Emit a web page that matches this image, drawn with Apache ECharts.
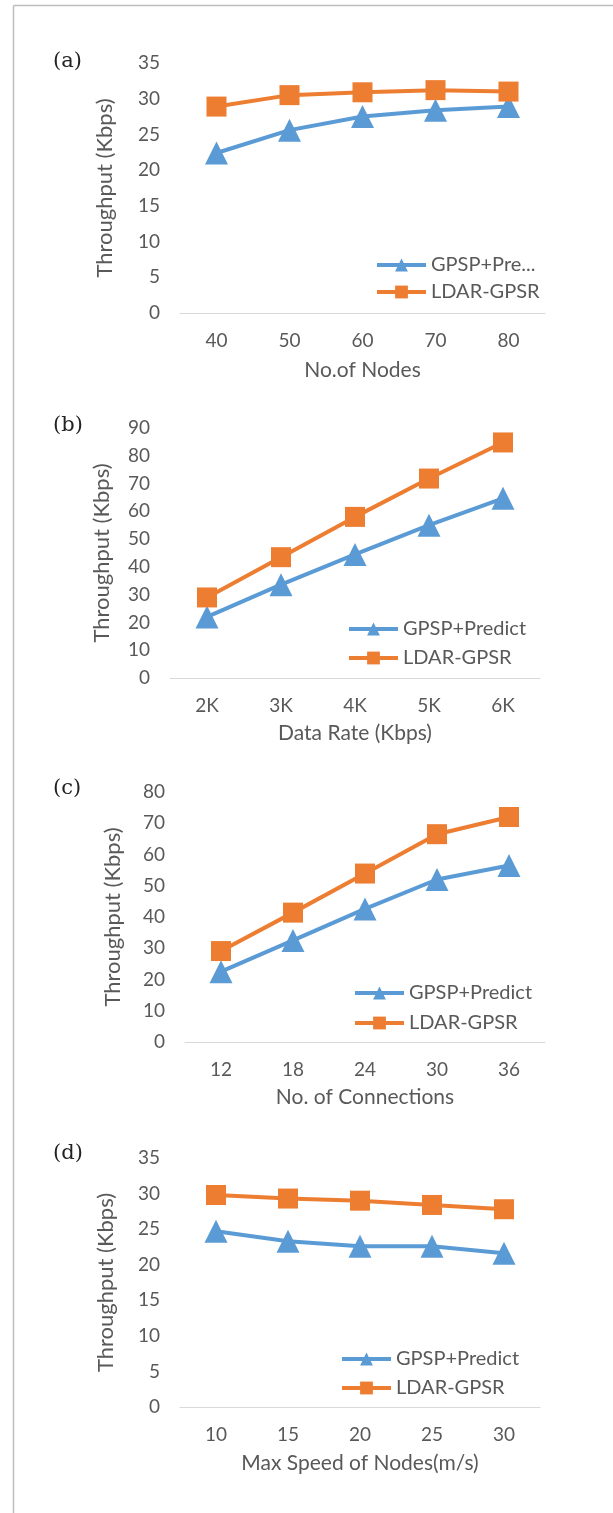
<!DOCTYPE html>
<html>
<head>
<meta charset="utf-8">
<script src="https://cdn.jsdelivr.net/npm/echarts@6/dist/echarts.min.js"></script>
<style>
html,body{margin:0;padding:0;background:#fff;}
#chart{width:613px;height:1513px;}
</style>
</head>
<body>
<div id="chart"></div>
<script>
// ---- data ----
const seriesNames = ['GPSP+Predict', 'LDAR-GPSR'];

const catsA = ['40', '50', '60', '70', '80'];
const gpspA = [22.4, 25.6, 27.5, 28.4, 28.9];
const ldarA = [28.9, 30.5, 30.9, 31.2, 31.0];

const catsB = ['2K', '3K', '4K', '5K', '6K'];
const gpspB = [22.0, 33.6, 44.5, 55.0, 64.7];
const ldarB = [29.0, 43.5, 58.0, 71.8, 84.8];

const catsC = ['12', '18', '24', '30', '36'];
const gpspC = [22.5, 32.5, 42.6, 52.0, 56.5];
const ldarC = [29.1, 41.4, 53.9, 66.5, 72.0];

const catsD = ['10', '15', '20', '25', '30'];
const gpspD = [24.7, 23.3, 22.6, 22.6, 21.6];
const ldarD = [29.8, 29.3, 29.0, 28.4, 27.8];

const panelLabels = ['(a)', '(b)', '(c)', '(d)'];
const xNames = ['No.of Nodes', 'Data Rate (Kbps)', 'No. of Connections', 'Max Speed of Nodes(m/s)'];
const yName = 'Throughput (Kbps)';
const yMax = [35, 90, 80, 35];
const yInterval = [5, 10, 10, 5];

// ---- layout ----
const FONT = 'Lato';
const GREY = '#595959';
const BLUE = '#5B9BD5';
const ORANGE = '#ED7D31';

const panels = [
  {cats: catsA, g: gpspA, l: ldarA, grid: {left: 180, top: 63, width: 365, height: 250}, legend: {left: 375, top: 255, gap: 7}, label: 63, yGap: 64, xGap: 47, truncate: true},
  {cats: catsB, g: gpspB, l: ldarB, grid: {left: 170, top: 428, width: 370, height: 250}, legend: {left: 347, top: 619, gap: 9}, label: 427, yGap: 57, xGap: 45},
  {cats: catsC, g: gpspC, l: ldarC, grid: {left: 185, top: 792, width: 360, height: 250}, legend: {left: 353, top: 983, gap: 10}, label: 790, yGap: 61, xGap: 45},
  {cats: catsD, g: gpspD, l: ldarD, grid: {left: 180, top: 1158, width: 360, height: 249}, legend: {left: 340, top: 1349, gap: 9}, label: 1155, yGap: 63, xGap: 46}
];

const grids = [], xAxes = [], yAxes = [], series = [], legends = [], graphics = [];

graphics.push({type: 'line', shape: {x1: 13.5, y1: 5.5, x2: 613, y2: 5.5}, style: {stroke: '#BDBDBD', lineWidth: 1.5}});
graphics.push({type: 'line', shape: {x1: 13.5, y1: 5.5, x2: 13.5, y2: 1513}, style: {stroke: '#BDBDBD', lineWidth: 1.5}});

panels.forEach((p, i) => {
  grids.push(Object.assign({containLabel: false}, p.grid));
  xAxes.push({
    type: 'category', gridIndex: i, data: p.cats,
    name: xNames[i], nameLocation: 'middle', nameGap: p.xGap,
    nameTextStyle: {color: GREY, fontFamily: FONT, fontSize: 21},
    axisLine: {show: true, lineStyle: {color: '#D9D9D9', width: 1}},
    axisTick: {show: false},
    axisLabel: {color: GREY, fontFamily: FONT, fontSize: 19, margin: 18},
    splitLine: {show: false}
  });
  yAxes.push({
    type: 'value', gridIndex: i, min: 0, max: yMax[i], interval: yInterval[i],
    name: yName, nameLocation: 'middle', nameGap: p.yGap, nameRotate: 90,
    nameTextStyle: {color: GREY, fontFamily: FONT, fontSize: 22},
    axisLine: {show: false}, axisTick: {show: false},
    axisLabel: {color: GREY, fontFamily: FONT, fontSize: 19, margin: 20},
    splitLine: {show: false}
  });
  series.push({
    name: seriesNames[0], type: 'line', xAxisIndex: i, yAxisIndex: i, data: p.g,
    symbol: 'triangle', symbolSize: 23, color: BLUE,
    lineStyle: {color: BLUE, width: 4}, itemStyle: {color: BLUE}, z: 3
  });
  series.push({
    name: seriesNames[1], type: 'line', xAxisIndex: i, yAxisIndex: i, data: p.l,
    symbol: 'rect', symbolSize: 20, color: ORANGE,
    lineStyle: {color: ORANGE, width: 4}, itemStyle: {color: ORANGE}, z: 3
  });
  legends.push({
    orient: 'vertical', left: p.legend.left, top: p.legend.top, itemGap: p.legend.gap,
    padding: 0,
    itemWidth: 49, itemHeight: 16, data: seriesNames, selectedMode: false,
    lineStyle: {width: 4},
    textStyle: {color: GREY, fontFamily: FONT, fontSize: 20, lineHeight: 19},
    formatter: p.truncate ? (n => n.length > 10 ? n.slice(0, 8) + '...' : n) : undefined
  });
  graphics.push({
    type: 'text', left: 53, top: p.label - 12,
    style: {text: panelLabels[i], fill: '#222', font: '21px "DejaVu Serif"'}
  });
});

const chart = echarts.init(document.getElementById('chart'), null, {renderer: 'canvas'});
chart.setOption({
  animation: false,
  backgroundColor: '#fff',
  grid: grids, xAxis: xAxes, yAxis: yAxes, series: series, legend: legends, graphic: graphics
});
</script>
</body>
</html>
